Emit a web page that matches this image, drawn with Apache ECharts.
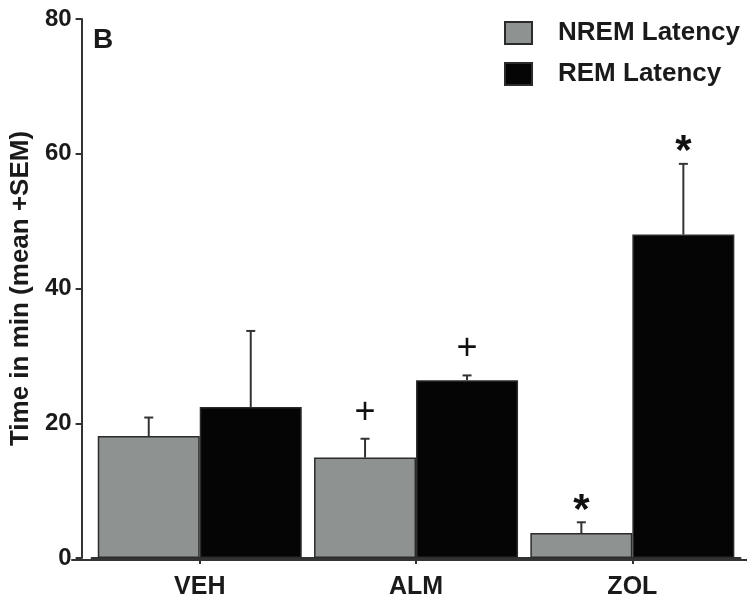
<!DOCTYPE html>
<html>
<head>
<meta charset="utf-8">
<script src="https://cdn.jsdelivr.net/npm/echarts@6/dist/echarts.min.js"></script>
<style>
  html, body { margin: 0; padding: 0; background: #fff; }
  #chart { width: 747px; height: 600px; }
</style>
</head>
<body>
<div id="chart"></div>
<script>
// Sleep latency per treatment group
const categories = ['VEH', 'ALM', 'ZOL'];
const nremLatency = [18.1, 14.9, 3.7];
const nremSem = [2.75, 2.8, 1.6];
const nremMarks = ['', '+', '*'];
const remLatency = [22.4, 26.4, 48.0];
const remSem = [11.3, 0.7, 10.5];
const remMarks = ['', '+', '*'];
const yTicks = [0, 20, 40, 60, 80];

const FONT = '"Liberation Sans", Arial, Helvetica, sans-serif';
const BAR_WIDTH = 102;
const CAP = 9;
const INK = '#1a1a1a';
const AXIS = '#333';

// Upper-only SEM whisker with an optional significance mark above it
function errorSeries(name, values, sems, marks, side) {
  return {
    name: name + ' SEM',
    type: 'custom',
    xAxisIndex: 0,
    yAxisIndex: 0,
    z: 4,
    silent: true,
    data: values.map((v, i) => [i, v, sems[i]]),
    encode: { x: 0, y: 1 },
    renderItem: function (params, api) {
      const i = api.value(0), v = api.value(1), s = api.value(2);
      const base = api.coord([i, v]);
      const top = api.coord([i, v + s]);
      const x = base[0] + side * BAR_WIDTH / 2;
      const children = [
        { type: 'line', shape: { x1: x, y1: base[1], x2: x, y2: top[1] },
          style: { stroke: AXIS, lineWidth: 2 } },
        { type: 'line', shape: { x1: x - CAP / 2, y1: top[1], x2: x + CAP / 2, y2: top[1] },
          style: { stroke: AXIS, lineWidth: 2 } }
      ];
      const mark = marks[params.dataIndex];
      if (mark === '+') {
        children.push({ type: 'text', style: {
          text: '+', x: x, y: top[1] - 26, align: 'center', verticalAlign: 'middle',
          font: 'normal 36px ' + FONT, fill: '#111' } });
      } else if (mark === '*') {
        children.push({ type: 'text', style: {
          text: '*', x: x, y: top[1] - 11, align: 'center', verticalAlign: 'middle',
          font: 'bold 42px ' + FONT, fill: '#111' } });
      }
      return { type: 'group', children: children };
    }
  };
}

const chart = echarts.init(document.getElementById('chart'), null, { renderer: 'canvas' });

chart.setOption({
  animation: false,
  backgroundColor: '#fff',
  textStyle: { fontFamily: FONT },
  title: {
    text: 'B',
    left: 88,
    top: 21,
    textStyle: { fontFamily: FONT, fontWeight: 'bold', fontSize: 28, color: INK }
  },
  legend: {
    orient: 'vertical',
    left: 499,
    top: 15,
    icon: 'rect',
    itemWidth: 27,
    itemHeight: 22,
    itemGap: 15,
    data: ['NREM Latency', 'REM Latency'],
    textStyle: {
      fontFamily: FONT, fontWeight: 'bold', fontSize: 26, color: INK,
      lineHeight: 22, padding: [0, 0, 0, 21]
    }
  },
  grid: [
    { left: 88, right: 6.5, top: 19, bottom: 40 },
    { left: 72, right: 0, top: 19, bottom: 40 }
  ],
  xAxis: [
    {
      type: 'category',
      gridIndex: 0,
      data: categories,
      axisLine: { show: true, lineStyle: { color: AXIS, width: 2 } },
      axisTick: { show: true, alignWithLabel: true, length: 6, lineStyle: { color: AXIS, width: 2 } },
      axisLabel: { fontFamily: FONT, fontWeight: 'bold', fontSize: 25, color: INK, margin: 17 }
    },
    {
      // baseline running under the full plot width
      type: 'value',
      gridIndex: 1,
      min: 0,
      max: 1,
      axisLine: { show: true, lineStyle: { color: AXIS, width: 2 } },
      axisTick: { show: false },
      axisLabel: { show: false },
      splitLine: { show: false }
    }
  ],
  yAxis: [
    {
      type: 'value',
      gridIndex: 0,
      min: yTicks[0],
      max: yTicks[yTicks.length - 1],
      interval: yTicks[1] - yTicks[0],
      offset: 10,
      name: 'Time in min (mean +SEM)',
      nameLocation: 'middle',
      nameRotate: 90,
      nameGap: 44,
      nameTextStyle: { fontFamily: FONT, fontWeight: 'bold', fontSize: 26, color: INK },
      axisLine: { show: true, lineStyle: { color: AXIS, width: 2 } },
      axisTick: { show: true, length: 6, lineStyle: { color: AXIS, width: 2 } },
      axisLabel: { fontFamily: FONT, fontWeight: 'bold', fontSize: 24, color: INK, margin: 10 },
      splitLine: { show: false }
    },
    { type: 'value', gridIndex: 1, show: false, min: 0, max: 1 }
  ],
  series: [
    {
      name: 'NREM Latency',
      type: 'bar',
      xAxisIndex: 0,
      yAxisIndex: 0,
      data: nremLatency,
      barWidth: BAR_WIDTH,
      barGap: '0%',
      itemStyle: { color: '#8e9391', borderColor: '#2b2b2b', borderWidth: 1.5 }
    },
    {
      name: 'REM Latency',
      type: 'bar',
      xAxisIndex: 0,
      yAxisIndex: 0,
      data: remLatency,
      barWidth: BAR_WIDTH,
      barGap: '0%',
      itemStyle: { color: '#050505', borderColor: '#2b2b2b', borderWidth: 1.5 }
    },
    errorSeries('NREM Latency', nremLatency, nremSem, nremMarks, -1),
    errorSeries('REM Latency', remLatency, remSem, remMarks, 1)
  ]
});
</script>
</body>
</html>
